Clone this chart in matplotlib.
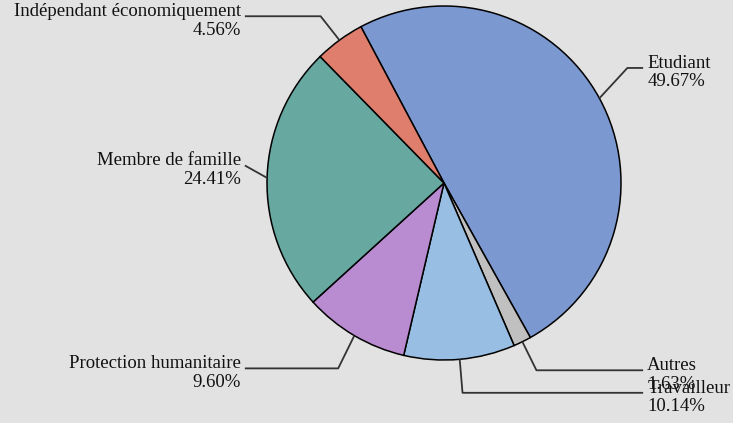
import numpy as np
import matplotlib
matplotlib.use('Agg')
import matplotlib.pyplot as plt
import matplotlib.transforms as mtrans

# Data
labels = ['Etudiant', 'Autres', 'Travailleur', 'Protection humanitaire',
          'Membre de famille', 'Indépendant économiquement']
values = [49.67, 1.63, 10.14, 9.60, 24.41, 4.56]
pct_text = ['49.67%', '1.63%', '10.14%', '9.60%', '24.41%', '4.56%']
colors = ['#7b98d0', '#c0c0c0', '#98bee3', '#b98bd0', '#67a9a1', '#e07e6e']

# small vertical nudges of the label elbows (layout only)
nudge = [0.085, 0.0, -0.01, -0.03, 0.065, -0.01]

bg = '#e2e2e2'
plt.rcParams['font.family'] = ['Liberation Serif', 'DejaVu Serif']

fig = plt.figure(figsize=(7.33, 4.23), dpi=100, facecolor=bg)
ax = fig.add_axes([0.0, 0.0, 1.0, 1.0])
ax.set_facecolor(bg)

start = 118
wedges, _ = ax.pie(values, colors=colors, startangle=start, counterclock=False,
                   radius=1.0, center=(0, 0),
                   wedgeprops=dict(edgecolor='black', linewidth=1.1))

# axes limits so that the pie sits where it does in the reference
cx, cy, rpx = 444, 183, 177
W, H = 733, 423
ax.set_xlim(-cx / rpx, (W - cx) / rpx)
ax.set_ylim(-(H - cy) / rpx, cy / rpx)
ax.set_aspect('equal')
ax.axis('off')

fs = 13.5
elbow_r = 1.18
line_end = 1.125

for w, lab, pct, dy in zip(wedges, labels, pct_text, nudge):
    mid = np.deg2rad((w.theta1 + w.theta2) / 2)
    ex, ey = np.cos(mid), np.sin(mid)
    bx, by = elbow_r * ex, elbow_r * ey + dy
    side = 1 if ex > 0 else -1
    if abs(bx) > line_end:
        bx = side * line_end
    tx = side * line_end
    ax.plot([ex, bx, tx], [ey, by, by], color='#333333', lw=1.3,
            solid_capstyle='butt', zorder=1)
    ha = 'left' if side > 0 else 'right'
    off = mtrans.offset_copy(ax.transData, fig=fig, x=side * 3, y=0, units='points')
    ax.text(tx, by, lab, ha=ha, va='baseline', fontsize=fs, color='#111111',
            transform=off)
    off2 = mtrans.offset_copy(ax.transData, fig=fig, x=side * 3, y=-13.2, units='points')
    ax.text(tx, by, pct, ha=ha, va='baseline', fontsize=fs, color='#111111',
            transform=off2)

fig.savefig('out.png', dpi=100, facecolor=bg)
